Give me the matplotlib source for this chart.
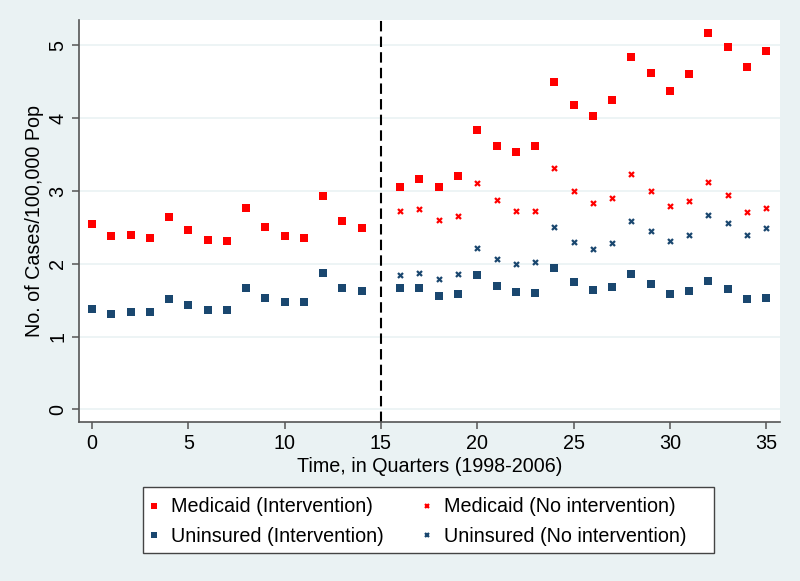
import matplotlib
matplotlib.use('Agg')
import matplotlib.pyplot as plt
from matplotlib.patches import Rectangle

plt.rcParams['font.family'] = ['Liberation Sans', 'DejaVu Sans']

# quarters
pre_q = list(range(0, 15))
post_q = list(range(16, 36))

# values
medicaid_pre = [2.55, 2.38, 2.39, 2.36, 2.64, 2.47, 2.32, 2.31, 2.77, 2.50,
                2.38, 2.36, 2.93, 2.59, 2.49]
uninsured_pre = [1.38, 1.31, 1.33, 1.33, 1.51, 1.43, 1.36, 1.37, 1.67, 1.53,
                 1.47, 1.48, 1.87, 1.67, 1.63]
medicaid_int = [3.06, 3.16, 3.05, 3.20, 3.84, 3.62, 3.53, 3.62, 4.50, 4.18,
                4.03, 4.25, 4.84, 4.62, 4.38, 4.61, 5.17, 4.98, 4.71, 4.92]
medicaid_noint = [2.73, 2.75, 2.60, 2.66, 3.11, 2.87, 2.72, 2.72, 3.31, 3.00,
                  2.83, 2.90, 3.23, 3.00, 2.79, 2.86, 3.13, 2.95, 2.71, 2.77]
uninsured_int = [1.66, 1.67, 1.56, 1.59, 1.85, 1.70, 1.61, 1.60, 1.94, 1.75,
                 1.64, 1.68, 1.86, 1.72, 1.58, 1.62, 1.76, 1.65, 1.51, 1.53]
uninsured_noint = [1.84, 1.87, 1.79, 1.86, 2.21, 2.07, 2.00, 2.02, 2.50, 2.30,
                   2.20, 2.29, 2.59, 2.45, 2.31, 2.40, 2.67, 2.56, 2.40, 2.49]

x_ticks = [0, 5, 10, 15, 20, 25, 30, 35]
y_ticks = [0, 1, 2, 3, 4, 5]
break_q = 15

RED = '#ff0000'
NAVY = '#1a476f'
BG = '#eaf2f3'
AXC = '#555555'
FS = 14.2

W, H = 800, 581
fig = plt.figure(figsize=(W / 100, H / 100), dpi=100, facecolor=BG)
ax = fig.add_axes([79 / W, 1 - 422 / H, 701 / W, 402 / H])
ax.set_facecolor('white')

sq = dict(linestyle='none', marker='s', markersize=6.2, markeredgewidth=0)
cr = dict(linestyle='none', marker='x', markersize=3.6, markeredgewidth=1.6)

h1, = ax.plot(pre_q + post_q, medicaid_pre + medicaid_int, color=RED, **sq)
h3, = ax.plot(post_q, medicaid_noint, color=RED, **cr)
h2, = ax.plot(pre_q + post_q, uninsured_pre + uninsured_int, color=NAVY, **sq)
h4, = ax.plot(post_q, uninsured_noint, color=NAVY, **cr)

ax.axvline(break_q, color='black', linestyle=(0, (5, 2.5)), linewidth=1.5)

ax.set_xlim(-0.68, 35.72)
ax.set_ylim(-0.175, 5.35)
ax.set_xticks(x_ticks)
ax.set_yticks(y_ticks)
ax.yaxis.grid(True, color=BG, linewidth=1.2)
ax.set_axisbelow(True)

for s in ['top', 'right']:
    ax.spines[s].set_visible(False)
for s in ['left', 'bottom']:
    ax.spines[s].set_color(AXC)
    ax.spines[s].set_linewidth(1.2)
ax.tick_params(axis='both', colors=AXC, labelcolor='black', labelsize=FS,
               length=5, width=1.1)
for lbl in ax.get_yticklabels():
    lbl.set_rotation(90)
    lbl.set_va('center')

ax.set_xlabel('Time, in Quarters (1998-2006)', fontsize=FS)
ax.set_ylabel('No. of Cases/100,000 Pop', fontsize=FS)
ax.xaxis.set_label_coords(0.5, (422 - 457) / 402)
ax.yaxis.set_label_coords((44 - 79) / 701, 0.5)

# legend box drawn by hand, entries placed inside it
fig.patches.append(Rectangle((143 / W, 1 - 553 / H), 571 / W, 66 / H,
                             transform=fig.transFigure, facecolor='white',
                             edgecolor='#444444', linewidth=1.0, zorder=1))
leg = fig.legend([h1, h2, h3, h4],
                 ['Medicaid (Intervention)', 'Uninsured (Intervention)',
                  'Medicaid (No intervention)', 'Uninsured (No intervention)'],
                 ncol=2, loc='upper left', bbox_to_anchor=(147 / W, 1 - 497.5 / H),
                 fontsize=FS, frameon=False, borderpad=0, borderaxespad=0,
                 markerscale=0.8, handlelength=0.72, handletextpad=0.5,
                 columnspacing=1.85, labelspacing=0.55)
leg.set_zorder(2)

fig.savefig('out.png', dpi=100, facecolor=BG)
